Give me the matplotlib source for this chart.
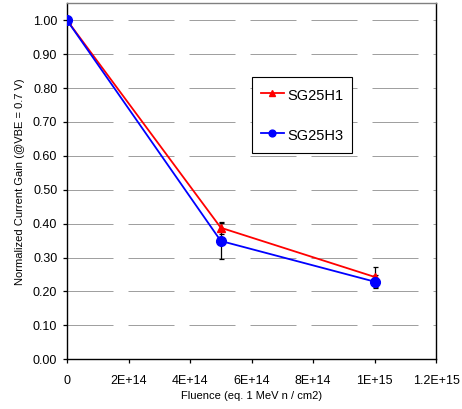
import matplotlib
matplotlib.use("Agg")
import matplotlib.pyplot as plt
from matplotlib.ticker import FixedLocator, FixedFormatter

plt.rcParams['font.family'] = ['Liberation Sans', 'DejaVu Sans']

fluence = [0, 5e14, 1e15]
h1_gain = [1.00, 0.388, 0.243]
h1_err = [0.0, 0.018, 0.030]
h3_gain = [1.00, 0.349, 0.229]
h3_err = [0.0, 0.054, 0.020]

xticks = [0, 2e14, 4e14, 6e14, 8e14, 1e15, 1.2e15]
xtick_labels = ["0", "2E+14", "4E+14", "6E+14", "8E+14", "1E+15", "1.2E+15"]
yticks = [0.0, 0.1, 0.2, 0.3, 0.4, 0.5, 0.6, 0.7, 0.8, 0.9, 1.0]
ytick_labels = ["%.2f" % v for v in yticks]

fig = plt.figure(figsize=(4.62, 4.09), dpi=100)
ax = fig.add_axes([0.145, 0.1215, 0.799, 0.8705])

ax.set_xlim(0, 1.2e15)
ax.set_ylim(0, 1.05)

for y in yticks[1:]:
    ax.axhline(y, color='#a0a0a0', lw=0.72, dashes=(46, 15), zorder=1)

ax.errorbar(fluence, h1_gain, yerr=h1_err, fmt='none', ecolor='black', elinewidth=0.9, capsize=1.8, capthick=0.9, zorder=2)
ax.errorbar(fluence, h3_gain, yerr=h3_err, fmt='none', ecolor='black', elinewidth=0.9, capsize=1.8, capthick=0.9, zorder=2)

ax.plot(fluence, h1_gain, color='#ff0000', lw=1.3, marker='^', ms=6, label='SG25H1', zorder=3)
ax.plot(fluence, h3_gain, color='#0000ff', lw=1.3, marker='o', ms=7, label='SG25H3', zorder=4)

ax.xaxis.set_major_locator(FixedLocator(xticks))
ax.xaxis.set_major_formatter(FixedFormatter(xtick_labels))
ax.yaxis.set_major_locator(FixedLocator(yticks))
ax.yaxis.set_major_formatter(FixedFormatter(ytick_labels))
ax.tick_params(axis='both', direction='out', length=3, width=0.9, labelsize=9, colors='black', pad=4)
ax.tick_params(axis='x', pad=8)

for s in ['left', 'bottom', 'right']:
    ax.spines[s].set_color('black')
    ax.spines[s].set_linewidth(1.0)
ax.spines['top'].set_color('#808080')
ax.spines['top'].set_linewidth(1.0)

ax.set_xlabel("Fluence (eq. 1 MeV n / cm2)", fontsize=8, labelpad=3)
ax.set_ylabel("Normalized Current Gain (@VBE = 0.7 V)", fontsize=8, labelpad=6)

leg = ax.legend(loc='upper left', bbox_to_anchor=(0.501, 0.792), fontsize=10.5,
                frameon=True, fancybox=False, edgecolor='black', framealpha=1,
                borderpad=0.6, labelspacing=1.45, handlelength=1.6, handleheight=1.6,
                handletextpad=0.2, borderaxespad=0, markerscale=0.7)
leg.get_frame().set_linewidth(0.8)

fig.savefig("out.png", dpi=100)
